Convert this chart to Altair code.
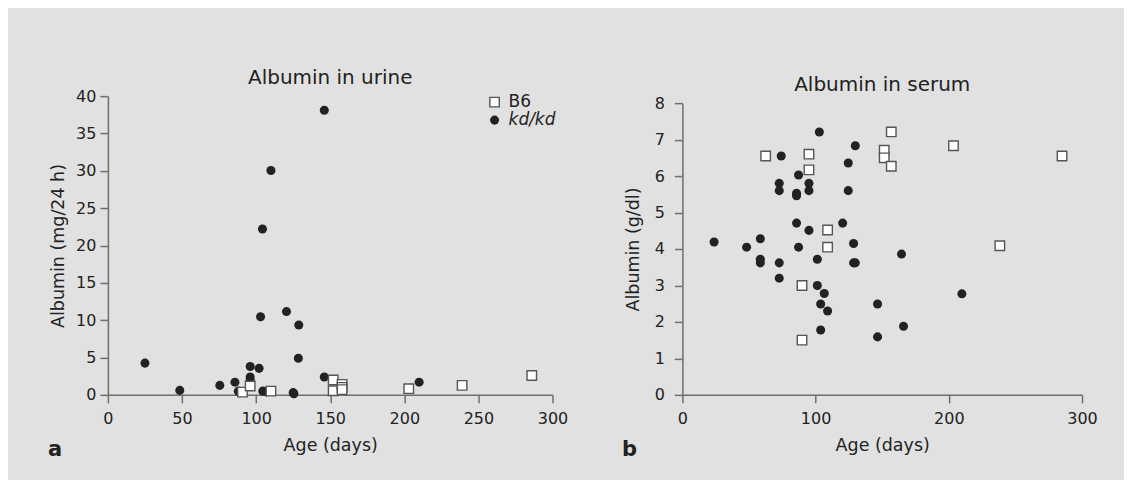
import altair as alt
import pandas as pd

# ---- data ----
urine_b6_age = [90.8, 96, 110, 152, 152, 158, 158, 158, 203, 239, 286]
urine_b6_alb = [0.37, 1.18, 0.5, 2.0, 0.55, 1.4, 1.0, 0.7, 0.83, 1.27, 2.6]

urine_kd_age = [25, 48.5, 75.5, 85.7, 88, 89, 96, 96, 96, 102, 103, 104.3, 110,
                104.5, 107, 120.5, 125, 125.5, 128.8, 128.5, 146, 146, 210]
urine_kd_alb = [4.25, 0.6, 1.27, 1.7, 0.5, 0.3, 3.8, 2.4, 2.0, 3.55, 10.45, 22.2, 30.05,
                0.5, 0.4, 11.15, 0.3, 0.15, 9.35, 4.9, 38.1, 2.4, 1.7]

serum_b6_age = [62.5, 89.8, 89.8, 95, 95, 109, 109, 156.8, 151.5, 151.5, 156.8, 203.5, 285, 238.3]
serum_b6_alb = [6.55, 3.0, 1.5, 6.6, 6.17, 4.52, 4.05, 7.21, 6.71, 6.5, 6.27, 6.83, 6.55, 4.09]

serum_kd_age = [23.8, 48.2, 58.5, 58.5, 58.5, 74.2, 72.7, 72.7, 72.7, 72.7, 87.2, 85.7, 85.7,
                85.7, 87.2, 95, 95, 95, 102.8, 101.3, 101.3, 106.5, 103.8, 109, 103.8, 120.3,
                124.5, 124.5, 129.8, 128.5, 128.5, 129.8, 164.5, 209.8, 146.5, 166, 146.5]
serum_kd_alb = [4.19, 4.05, 4.28, 3.72, 3.62, 6.55, 5.8, 5.6, 3.62, 3.2, 6.03, 5.53, 5.46,
                4.71, 4.05, 5.8, 5.6, 4.51, 7.21, 3.72, 3.0, 2.78, 2.49, 2.3, 1.78, 4.71,
                6.36, 5.6, 6.83, 4.15, 3.62, 3.62, 3.86, 2.77, 2.49, 1.88, 1.59]

groups = ["B6", "kd/kd"]
urine_title = "Albumin in urine"
serum_title = "Albumin in serum"
urine_ytitle = "Albumin (mg/24 h)"
serum_ytitle = "Albumin (g/dl)"
x_title = "Age (days)"
urine_xticks = [0, 50, 100, 150, 200, 250, 300]
serum_xticks = [0, 100, 200, 300]
urine_yticks = [0, 5, 10, 15, 20, 25, 30, 35, 40]
serum_yticks = [0, 1, 2, 3, 4, 5, 6, 7, 8]

FONT = "DejaVu Sans"
TXT = "#222222"
AXC = "#6e6e6e"
DOT = "#222222"
H = 299


def panel(b6_age, b6_alb, kd_age, kd_alb, xticks, yticks, ytitle, title,
          width, ytop, letter, ylabel_pad, ytitle_pad, legend):
    b6 = pd.DataFrame({"age": b6_age, "alb": b6_alb})
    kd = pd.DataFrame({"age": kd_age, "alb": kd_alb})
    xs = alt.Scale(domain=[xticks[0], xticks[-1]], nice=False)
    ys = alt.Scale(domain=[yticks[0], yticks[-1]], nice=False, range=[H, ytop])
    xax = alt.Axis(values=xticks, title=x_title, labelPadding=8, titlePadding=10,
                   labelOverlap=False, labelFlush=False)
    yax = alt.Axis(values=yticks, title=ytitle, labelPadding=ylabel_pad,
                   titlePadding=ytitle_pad, labelOverlap=False, labelFlush=False)
    enc = dict(x=alt.X("age:Q", scale=xs, axis=xax), y=alt.Y("alb:Q", scale=ys, axis=yax))
    dots = alt.Chart(kd).mark_circle(size=82, opacity=1, color=DOT, clip=False).encode(**enc)
    squares = alt.Chart(b6).mark_point(shape="square", size=90, filled=True, fill="white",
                                       stroke="#555555", strokeWidth=1.4, opacity=1,
                                       clip=False).encode(**enc)
    one = pd.DataFrame({"k": [0]})
    lab = alt.Chart(one).mark_text(text=letter, font=FONT, fontSize=21, fontWeight="bold",
                                   color=TXT, align="center", baseline="alphabetic").encode(
        x=alt.value(-53), y=alt.value(H + 61))
    layers = [dots, squares, lab]
    if legend:
        lx = width - 58
        layers += [
            alt.Chart(one).mark_point(shape="square", size=90, filled=True, fill="white",
                                      stroke="#555555", strokeWidth=1.4, opacity=1).encode(
                x=alt.value(lx), y=alt.value(6)),
            alt.Chart(one).mark_circle(size=82, opacity=1, color=DOT).encode(
                x=alt.value(lx), y=alt.value(24)),
            alt.Chart(one).mark_text(text=groups[0], font=FONT, fontSize=17, color=TXT,
                                     align="left", baseline="middle").encode(
                x=alt.value(lx + 14), y=alt.value(6)),
            alt.Chart(one).mark_text(text=groups[1], font=FONT, fontSize=17, color=TXT,
                                     fontStyle="italic", align="left",
                                     baseline="middle").encode(
                x=alt.value(lx + 14), y=alt.value(24)),
        ]
    return alt.layer(*layers).properties(
        width=width, height=H,
        title=alt.TitleParams(title, font=FONT, fontSize=20, fontWeight="normal",
                              color=TXT, anchor="middle", offset=0),
    )


left = panel(urine_b6_age, urine_b6_alb, urine_kd_age, urine_kd_alb, urine_xticks,
             urine_yticks, urine_ytitle, urine_title, 445, 0, "a", 4, 8, True)
right = panel(serum_b6_age, serum_b6_alb, serum_kd_age, serum_kd_alb, serum_xticks,
              serum_yticks, serum_ytitle, serum_title, 400, 7, "b", 10, 12, False)

chart = alt.hconcat(left, right, spacing=53).properties(
    background="#e1e1e1",
    padding={"left": 39, "top": 60, "right": 26, "bottom": 20},
).configure_view(stroke=None).configure_axis(
    grid=False,
    domainColor=AXC, domainWidth=1.5,
    tickColor=AXC, tickWidth=1.5, tickSize=8,
    labelFont=FONT, labelFontSize=16, labelColor=TXT,
    titleFont=FONT, titleFontSize=17.5, titleFontWeight="normal", titleColor=TXT,
)

chart.save("out.html", embed_options={"renderer": "svg", "actions": False})
